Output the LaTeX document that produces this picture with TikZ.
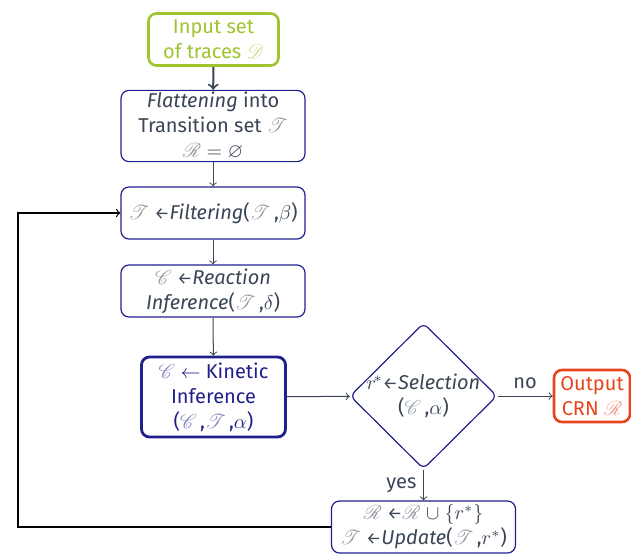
\documentclass[tikz,border=0pt]{standalone}
\usepackage{amssymb}
\usepackage{fontspec}
\setmainfont{Fira Sans}
\usepackage{mathrsfs}
\usetikzlibrary{shapes.geometric}

\definecolor{navy}{HTML}{20208C}
\definecolor{leaf}{HTML}{9EC42E}
\definecolor{flame}{HTML}{E8441E}
\definecolor{slate}{HTML}{3A4556}

% script letters drawn in a paler tint of the text colour
\newcommand{\Dset}{{\color{.!55}\mathscr{D}}}
\newcommand{\Tset}{{\color{.!55}\mathscr{T}}}
\newcommand{\Rset}{{\color{.!55}\mathscr{R}}}
\newcommand{\Cset}{{\color{.!55}\mathscr{C}}}
\newcommand{\assign}{{\fontsize{8.5}{8.5}\selectfont\char"2190}}

\tikzset{
    stepbox/.style={draw=navy, line width=0.6pt, rounded corners=4pt, align=center,
        text=slate, minimum width=92pt, minimum height=26pt, inner sep=1pt,
        font=\fontsize{10}{12.5}\selectfont},
    keybox/.style={stepbox, line width=1.4pt, text=navy, minimum width=72pt, minimum height=40pt},
    inbox/.style={stepbox, draw=leaf, line width=1.3pt, text=leaf, minimum width=65pt},
    outbox/.style={stepbox, draw=flame, line width=1.3pt, text=flame, minimum width=38pt},
    choice/.style={diamond, draw=navy, line width=0.6pt, rounded corners=3pt, align=center,
        text=slate, minimum width=73.5pt, minimum height=73pt, inner sep=-2pt,
        font=\fontsize{10}{12.5}\selectfont},
    flow/.style={->, draw=slate, line width=0.5pt},
}

\begin{document}
\begin{tikzpicture}[x=0.5pt, y=-0.5pt]
    \useasboundingbox (0, 0) rectangle (631, 553);
    \node[inbox] (input) at (213.5, 39.5) {Input set\\of traces $\Dset$};
    \node[stepbox, minimum height=34pt] (flat) at (213, 126) {\textit{Flattening} into\\Transition set $\Tset$\\$\Rset = \varnothing$};
    \node[stepbox] (filter) at (213, 213) {$\Tset$ \assign\textit{Filtering}($\Tset$\,,$\beta$)};
    \node[stepbox] (infer) at (213, 291) {$\Cset$ \assign\textit{Reaction}\\\textit{Inference}($\Tset$\,,$\delta$)};
    \node[keybox] (kinetic) at (213.5, 397) {$\Cset$ $\leftarrow$ Kinetic\\Inference\\($\Cset$\,,$\Tset$\,,$\alpha$)};
    \node[choice] (select) at (423.5, 396) {$r^{\!*}$\assign\textit{Selection}\\($\Cset$\,,$\alpha$)};
    \node[outbox] (output) at (592, 396) {Output\\CRN $\Rset$};
    \node[stepbox] (update) at (423.5, 527) {$\Rset$ \assign$\Rset$ $\cup$ $\{r^{*}\}$\\$\Tset$ \assign\textit{Update}($\Tset$\,,$r^{*}$)};
    \coordinate (loop_1) at (18, 527);
    \coordinate (loop_2) at (18, 213);
    \draw[flow, line width=1pt] (input) -- (flat);
    \draw[flow] (flat) -- (filter);
    \draw[flow] (filter) -- (infer);
    \draw[flow] (infer) -- (kinetic);
    \draw[flow] (kinetic) -- (select);
    \draw[flow] (select) -- node[above, text=slate, font=\fontsize{10}{12}\selectfont] {no} (output);
    \draw[flow] (select) -- node[left, text=slate, font=\fontsize{10}{12}\selectfont] {yes} (update);
    \draw[->, black, line width=0.6pt] (update.west) -- (loop_1) -- (loop_2) -- (filter.west);
\end{tikzpicture}
\end{document}
